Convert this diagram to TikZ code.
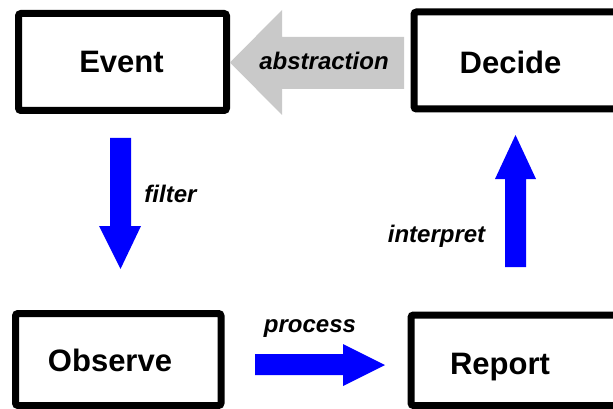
\documentclass[tikz,border=0pt]{standalone}
\usepackage{fontspec}
\setmainfont{Liberation Sans}
\begin{document}
\begin{tikzpicture}[x=1pt,y=-1pt,
  frame/.style={line width=7pt, rounded corners=2.5pt, draw=black},
  boxtext/.style={font=\fontsize{31}{31}\selectfont\bfseries, anchor=base, inner sep=0pt},
  labeltext/.style={font=\fontsize{24}{24}\selectfont\bfseries\itshape, anchor=base, inner sep=0pt},
  bluearrow/.style={fill=blue},
  greyarrow/.style={fill=black!21}]
\useasboundingbox (0,0) rectangle (613,409);
\begin{scope}
  \clip (0,0) rectangle (613,409);
  % the four stage boxes (the right-hand ones run past the edge)
  \draw[frame] (18.5,13.5) rectangle (226.5,110.5);
  \draw[frame] (414,12) rectangle (650,109);
  \draw[frame] (15.5,313.5) rectangle (221,405.5);
  \draw[frame] (411,315) rectangle (650,405.5);

  % abstraction: grey block arrow pointing left
  \fill[greyarrow] (230,62.5) -- (282,10) -- (282,37) -- (404,37)
    -- (404,89) -- (282,89) -- (282,115) -- cycle;
  % filter: down
  \fill[bluearrow] (110,138) -- (131,138) -- (131,226) -- (141,226)
    -- (120.5,269) -- (99,226) -- (110,226) -- cycle;
  % process: right
  \fill[bluearrow] (255,354) -- (343,354) -- (343,344) -- (385,365)
    -- (343,386) -- (343,375) -- (255,375) -- cycle;
  % interpret: up
  \fill[bluearrow] (505,267) -- (505,179) -- (495,179) -- (515.5,135)
    -- (536,179) -- (526,179) -- (526,267) -- cycle;
\end{scope}

\node[boxtext] (event)   at (121.5,73)  {Event};
\node[boxtext] (decide)  at (510.5,74)  {Decide};
\node[boxtext] (observe) at (110,371)   {Observe};
\node[boxtext] (report)  at (500,374)   {Report};

\node[labeltext] (abstraction) at (324,70)   {abstraction};
\node[labeltext] (filter)      at (170.5,202) {filter};
\node[labeltext] (process)     at (310,332)   {process};
\node[labeltext] (interpret)   at (436.5,242) {interpret};
\end{tikzpicture}
\end{document}
